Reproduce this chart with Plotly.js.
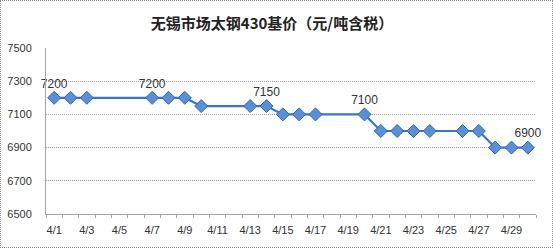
<!DOCTYPE html>
<html><head><meta charset="utf-8">
<script src="https://cdn.plot.ly/plotly-3.0.1.min.js"></script>
<style>
html,body{margin:0;padding:0;background:#fff;}
#wrap{position:relative;width:553px;height:248px;}
#chart{width:553px;height:248px;}
#frame{position:absolute;left:0;top:0;width:553px;height:248px;box-sizing:border-box;border:1px dotted #8c8c8c;pointer-events:none;}
</style></head>
<body>
<div id="wrap"><div id="chart"></div><div id="frame"></div></div>
<script>
const days = [1,2,3,7,8,9,10,13,14,15,16,17,20,21,22,23,24,26,27,28,29,30];
const prices = [7200,7200,7200,7200,7200,7200,7150,7150,7150,7100,7100,7100,7100,7000,7000,7000,7000,7000,7000,6900,6900,6900];
const labelDays = [1,7,14,20,30];
const tickDays = [1,3,5,7,9,11,13,15,17,19,21,23,25,27,29];
const tickLabels = ['4/1','4/3','4/5','4/7','4/9','4/11','4/13','4/15','4/17','4/19','4/21','4/23','4/25','4/27','4/29'];
const yTicks = [6500,6700,6900,7100,7300,7500];
const titleText = '无锡市场太钢430基价（元/吨含税）';

const textArr = days.map((d,i)=> labelDays.includes(d) ? String(prices[i]) : '');

const trace = {
  x: days, y: prices, type:'scatter', mode:'lines+markers+text',
  text: textArr, textposition:'top center',
  textfont:{family:'Liberation Sans, Arial, sans-serif', size:12, color:'#333'},
  line:{color:'#3a75c4', width:2.2},
  marker:{symbol:'diamond', size:10, color:'#5b8fd6', line:{color:'#2f66b3', width:1}},
  cliponaxis:false, hoverinfo:'none'
};

const layout = {
  width:553, height:248,
  margin:{l:46, r:17, t:48, b:34},
  paper_bgcolor:'#fff', plot_bgcolor:'#fff',
  showlegend:false,
  title:{text:titleText, xref:'container', x:272/553, xanchor:'center', yref:'container', y:1-24/248, yanchor:'middle',
    font:{family:'Noto Sans CJK SC, sans-serif', size:15, color:'#222', weight:'bold'}},
  xaxis:{range:[0.5,30.5], tickvals:tickDays, ticktext:tickLabels, showgrid:false, zeroline:false,
    showline:true, linecolor:'#a6a6a6', linewidth:1, ticks:'', ticklabelstandoff:6,
    minor:{ticks:'outside', tick0:0.5, dtick:1, ticklen:3, tickcolor:'#a6a6a6', showgrid:false},
    tickfont:{family:'Liberation Sans, Arial, sans-serif', size:11, color:'#333'}},
  yaxis:{range:[6500,7500], tickvals:yTicks, showgrid:true, gridcolor:'#a0a0a0', griddash:'1px,1px', gridwidth:1,
    zeroline:false, showline:true, linecolor:'#a6a6a6', linewidth:1, ticks:'', ticklabelstandoff:11,
    tickfont:{family:'Liberation Sans, Arial, sans-serif', size:11, color:'#333'}}
};
Plotly.newPlot('chart',[trace],layout,{staticPlot:true});
</script>
</body></html>
